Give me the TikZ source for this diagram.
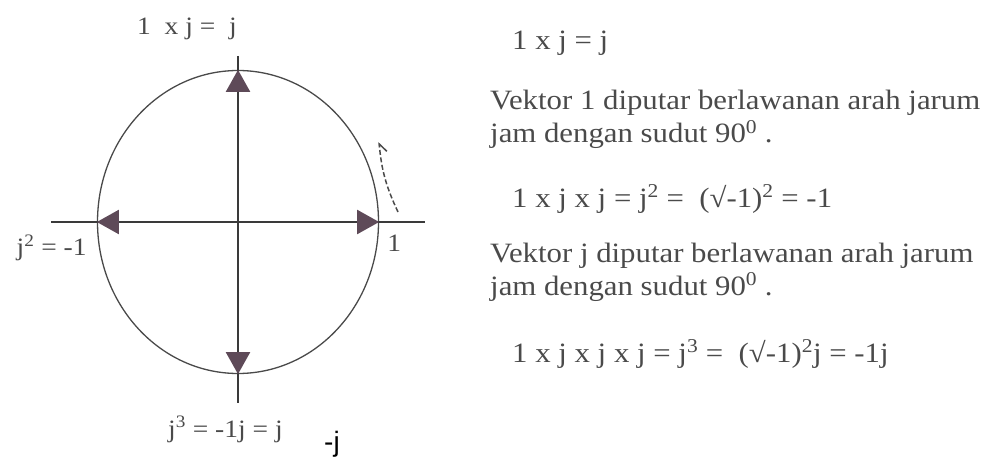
\documentclass[tikz,border=0pt]{standalone}
\usepackage{fontspec}
\setmainfont{Liberation Serif}[FakeStretch=1.1]
\newfontfamily\sansfont{Liberation Sans}
\usetikzlibrary{arrows.meta,positioning,shapes.geometric}
\definecolor{ink}{HTML}{3a3a3a}
\definecolor{lead}{HTML}{4a4a4a}
\definecolor{plum}{HTML}{5e4a58}

\begin{document}
\begin{tikzpicture}[x=1pt,y=-1pt,
   lbl/.style={inner sep=0pt,text=lead,font=\fontsize{25}{30}\selectfont},
   txt/.style={inner sep=0pt,anchor=base west,align=left,text=lead,font=\fontsize{28}{33}\selectfont},
   ax/.style={line width=2.2pt,ink},
   vec/.style={line width=2.2pt,ink,-{Triangle[length=22pt,width=24pt,color=plum]}},
   turn/.style={dash pattern=on 5pt off 2.5pt,line width=1.5pt,lead,-{Straight Barb[harpoon,swap,length=8pt,width=14pt]}}]
  \useasboundingbox (0,0) rectangle (992,457);
  % unit circle (printed a bit taller than wide)
  \node[ellipse,draw=lead,line width=1.3pt,minimum width=281pt,minimum height=303pt,inner sep=0pt] (c) at (238,222) {};
  \coordinate (xl) at (51,222);
  \coordinate (xr) at (425,222);
  \coordinate (yt) at (238,56);
  \coordinate (yb) at (238,403);
  \draw[ax] (xl) -- (xr);
  \draw[ax] (yt) -- (yb);
  \draw[vec] (c.center) -- (c.north);
  \draw[vec] (c.center) -- (c.east);
  \draw[vec] (c.center) -- (c.west);
  \draw[vec] (c.center) -- (c.south);
  % turning sense
  \coordinate (rs) at (398,212);
  \coordinate (re) at (379,142);
  \draw[turn] (rs) to[bend left=10] (re);
  % axis labels
  \node[lbl,anchor=base west] (top) at (137,35) {1~ x j = ~j};
  \node[lbl,below left=13pt and 10pt of c.west] (neg) {j\textsuperscript{2} = -1};
  \node[lbl,below right=13pt and 8pt of c.east] (one) {1};
  \node[lbl,anchor=base west] (cube) at (168,437) {j\textsuperscript{3} = -1j = j};
  \node[anchor=base west,inner sep=0pt,font=\sansfont\fontsize{28}{33}\selectfont] (mj) at (324,451) {-j};
  % right column (base = last line)
  \node[txt] (e1) at (512,50) {1 x j = j};
  \node[txt] (p1) at (490,143) {Vektor 1 diputar berlawanan arah jarum\\jam dengan sudut 90\textsuperscript{0} .};
  \node[txt] (e2) at (512,207) {1 x j x j = j\textsuperscript{2} = ~(√-1)\textsuperscript{2} = -1};
  \node[txt] (p2) at (490,295) {Vektor j diputar berlawanan arah jarum\\jam dengan sudut 90\textsuperscript{0} .};
  \node[txt] (e3) at (512,362) {1 x j x j x j = j\textsuperscript{3} = ~(√-1)\textsuperscript{2}j = -1j};
\end{tikzpicture}
\end{document}
